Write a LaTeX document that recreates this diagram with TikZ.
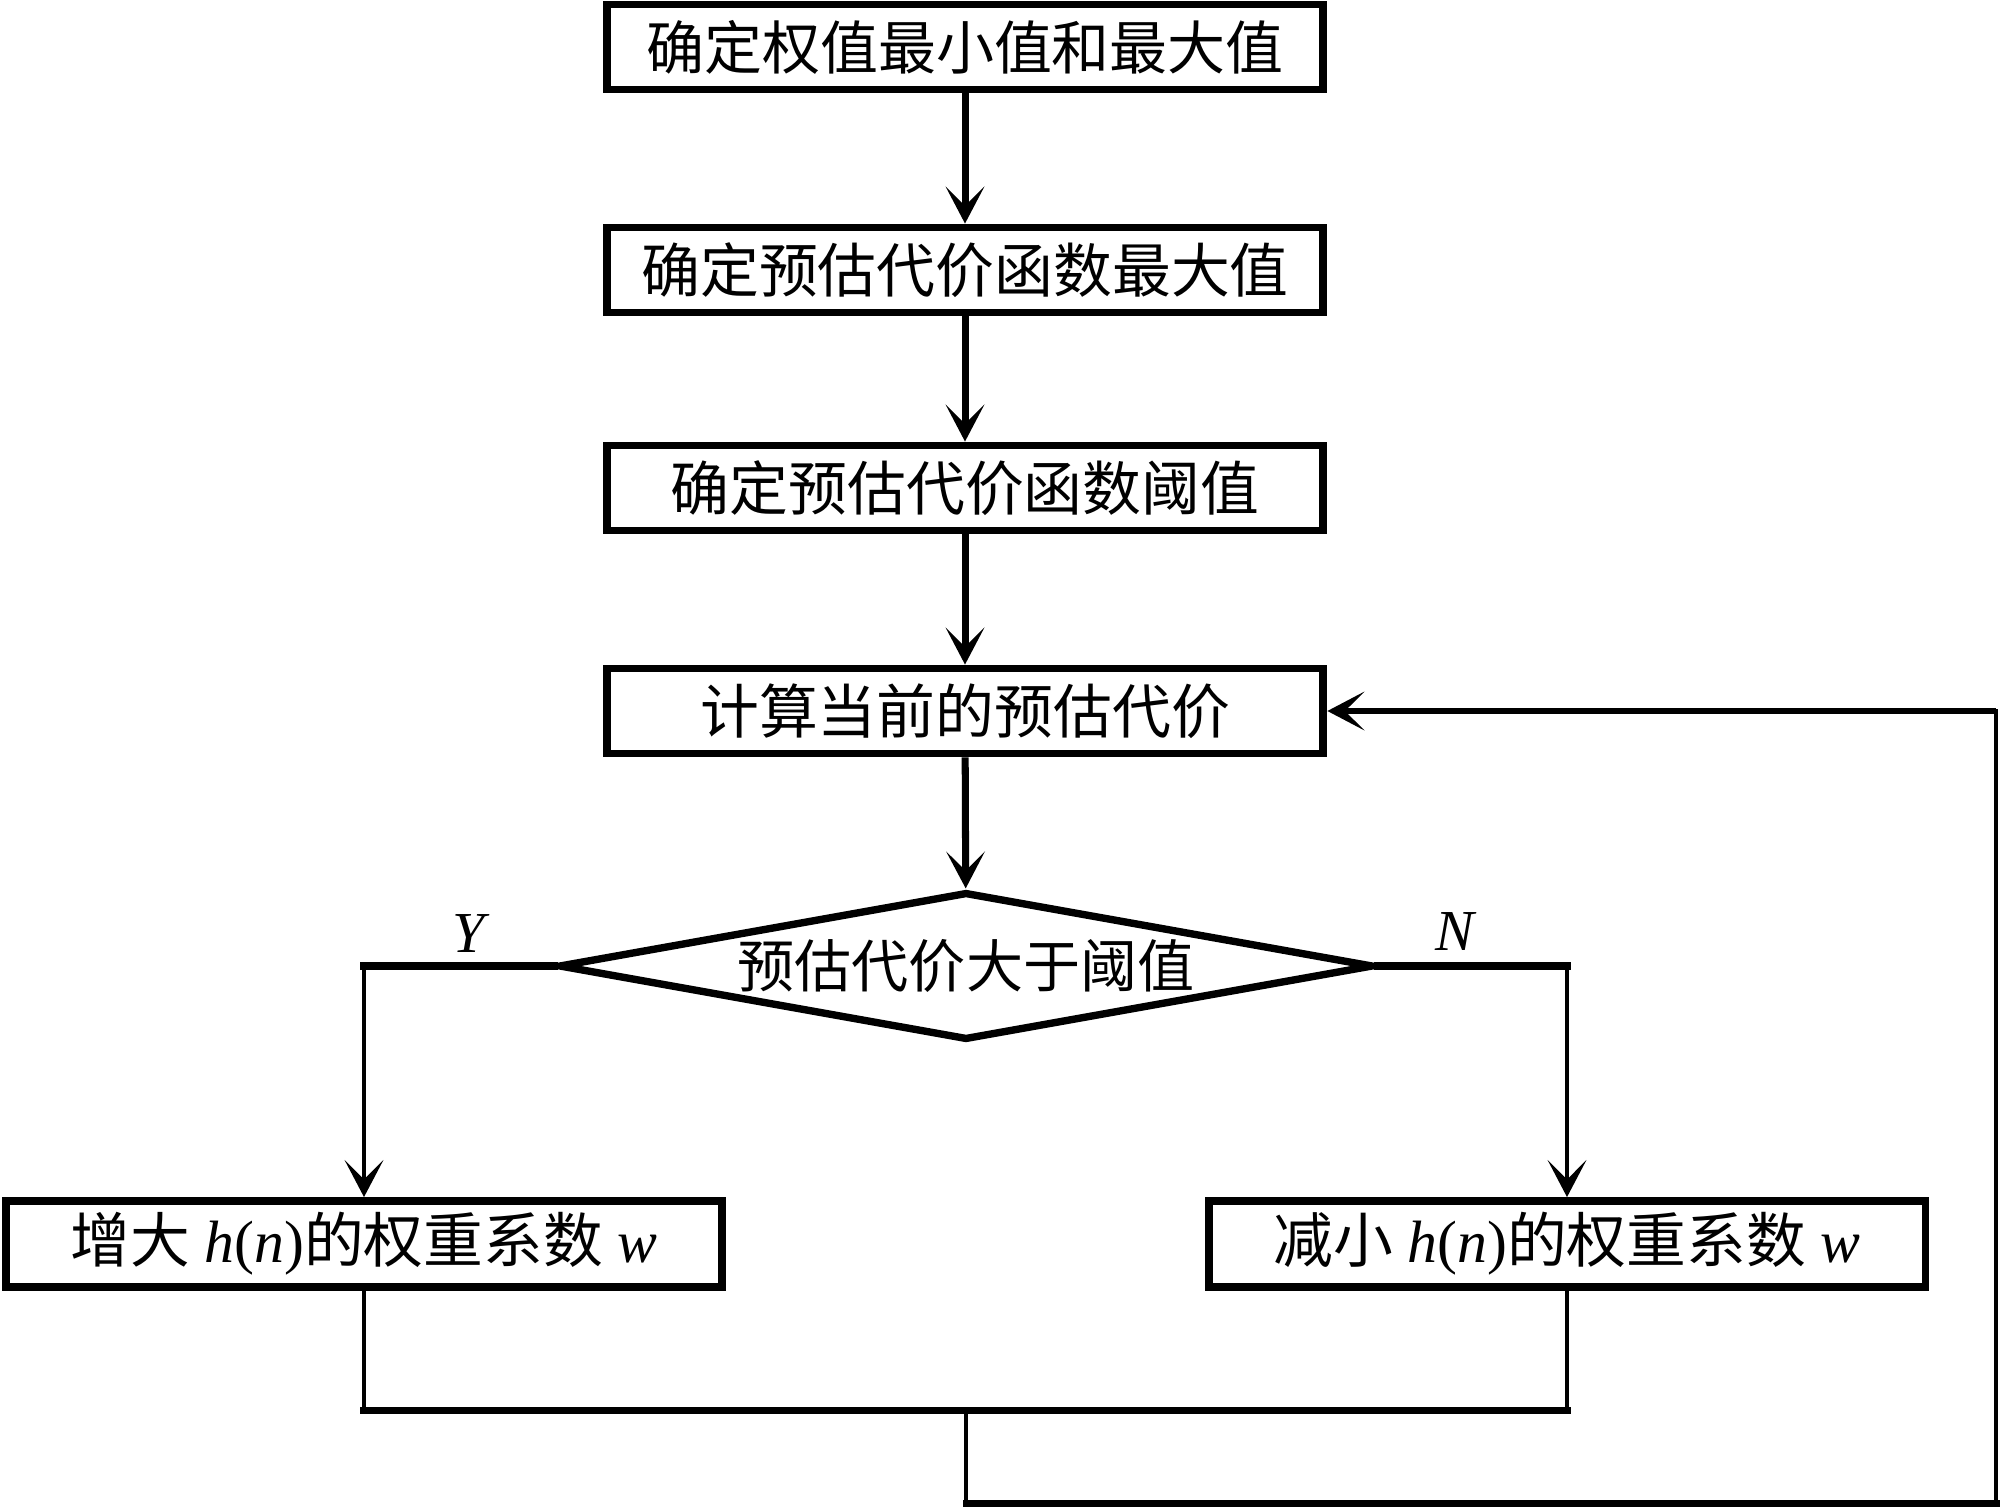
\documentclass[tikz,border=0pt]{standalone}
\usepackage{fontspec}
\setmainfont{Liberation Serif}
\newfontfamily\cjk{Noto Sans CJK SC}
\usetikzlibrary{arrows.meta,shapes.geometric}
\newcommand\fsbig{\fontsize{33.5pt}{40pt}\selectfont}
\newcommand\fssmall{\fontsize{32.5pt}{38pt}\selectfont}
\newcommand\fslow{\fontsize{34pt}{40pt}\selectfont}
\tikzset{
  box/.style={draw, line width=4.5pt, minimum width=14.34cm, minimum height=1.70cm, inner sep=0pt, font=\fsbig\cjk},
  lowbox/.style={box, minimum height=1.72cm},
  dec/.style={draw, diamond, line width=4.2pt, aspect=5.5, minimum width=16.3cm, minimum height=2.96cm, inner sep=0pt, font=\fssmall\cjk},
  arr/.style={-{Stealth[length=21pt,width=22pt,inset=11pt]}},
  shaft/.style={line width=4pt},
  hline/.style={line width=4pt, line cap=rect},
  vline/.style={line width=2.3pt, line cap=rect},
  lab/.style={font=\fontsize{33pt}{36pt}\selectfont\itshape, inner sep=0pt}
}
\begin{document}
\begin{tikzpicture}[x=0.02cm, y=-0.02cm]
\useasboundingbox (0,0) rectangle (2000,1507);
\node[box, font=\fontsize{33pt}{38pt}\selectfont\cjk] (b1) at (965,47) {确定权值最小值和最大值};
\node[box] (b2) at (965,270) {确定预估代价函数最大值};
\node[box] (b3) at (965,488) {确定预估代价函数阈值};
\node[box] (b4) at (965,711) {计算当前的预估代价};
\node[dec] (d) at (966,966) {预估代价大于阈值};
\node[lowbox, font=\fslow] (L) at (364,1244) {{\cjk 增大} \textit{h}(\textit{n}){\cjk 的权重系数} \textit{w}};
\node[lowbox, font=\fslow] (R) at (1567,1244) {{\cjk 减小} \textit{h}(\textit{n}){\cjk 的权重系数} \textit{w}};
\node[lab] (Y) at (469,934) {Y};
\node[lab] (N) at (1455,932) {N};
\coordinate (jy) at (0,1410);
\coordinate (j) at (966,1410);
\coordinate (c) at (1996,1503);
\draw[shaft, arr] (b1) -- (b2);
\draw[shaft, arr] (b2) -- (b3);
\draw[shaft, arr] (b3) -- (b4);
\draw[shaft, arr] (b4) -- (d);
\draw[hline] (d.west) -- (d.west -| L.north);
\draw[vline, arr] (d.west -| L.north) -- (L.north);
\draw[hline] (d.east) -- (d.east -| R.north);
\draw[vline, arr] (d.east -| R.north) -- (R.north);
\draw[vline] (L.south) -- (L.south |- jy);
\draw[vline] (R.south) -- (R.south |- jy);
\draw[hline] (L.south |- jy) -- (R.south |- jy);
\draw[vline] (j) -- (j |- c);
\draw[hline] (j |- c) -- (c);
\draw[vline] (c) -- (c |- b4.east);
\draw[line width=3.4pt, arr] (c |- b4.east) -- (b4.east);
\end{tikzpicture}
\end{document}
